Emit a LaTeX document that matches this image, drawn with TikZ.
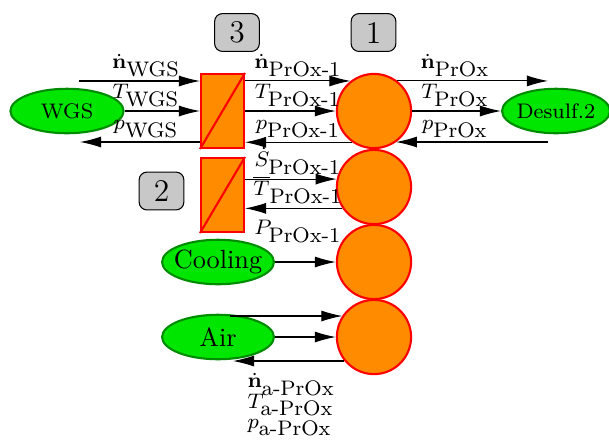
\documentclass[tikz,border=0pt]{standalone}
\usetikzlibrary{shapes.geometric,arrows.meta}
\definecolor{reactorfill}{RGB}{255,140,0}
\definecolor{unitfill}{RGB}{0,230,0}
\definecolor{unitdraw}{RGB}{0,140,0}
\definecolor{tagfill}{RGB}{200,200,200}
\begin{document}
\begin{tikzpicture}
[
    x=0.38pt, y=-0.38pt,
    reactor/.style={circle, draw=red, fill=reactorfill, line width=0.8pt, minimum size=28.2pt, inner sep=0pt},
    hex/.style={rectangle, draw=red, fill=reactorfill, line width=0.8pt, minimum width=16.3pt, minimum height=28.1pt, inner sep=0pt},
    unit/.style={ellipse, draw=unitdraw, fill=unitfill, line width=0.8pt, minimum width=42.5pt, minimum height=16.9pt, inner xsep=-2.5pt, inner ysep=0pt},
    tag/.style={rectangle, rounded corners=3pt, draw=black, fill=tagfill, minimum width=17pt, minimum height=14.4pt, inner sep=0pt, font=\large},
    lbl/.style={anchor=south, inner xsep=0pt, inner ysep=1.5pt, font=\footnotesize},
    flow/.style={-{Latex[length=8pt,width=4.2pt]}}
]
    \useasboundingbox (0,0) rectangle (609,441);

    % reactor stages
    \node [reactor] (c1) at (374,111) {};
    \node [reactor] (c2) at (374,187) {};
    \node [reactor] (c3) at (374,262) {};
    \node [reactor] (c4) at (374,337) {};

    % heat exchangers
    \node [hex] (r1) at (222.5,111) {};
    \node [hex] (r2) at (222.5,195) {};
    \draw [red, line width=0.8pt] (r1.south west) -- (r1.north east);
    \draw [red, line width=0.8pt] (r2.south west) -- (r2.north east);

    % numbered tags
    \node [tag] (t3) at (237,32.5) {3};
    \node [tag] (t1) at (373.5,32.5) {1};
    \node [tag] (t2) at (161.5,191) {2};

    % surrounding units
    \node [unit, minimum width=43pt, font=\footnotesize] (wgs) at (67,111) {WGS};
    \node [unit, minimum width=41pt, font=\footnotesize] (desulf) at (556,111) {Desulf.2};
    \node [unit] (cool) at (218,262) {Cooling};
    \node [unit] (air) at (218,337) {Air};

    % free ends
    \coordinate (wgsin) at (79,81);
    \coordinate (wgsout) at (80,142);
    \coordinate (proxout) at (548,81);
    \coordinate (proxin) at (548,142);
    \coordinate (airin) at (230,316);
    \coordinate (airout) at (233,361);

    % WGS side
    \draw [flow] (wgsin) -- (wgsin -| r1.west);
    \draw [flow] (wgs.east) -- (r1.west);
    \draw [flow] (r1.west |- wgsout) -- (wgsout);
    \node [lbl] (lnwgs) at (146,81) {$\dot{\mathbf{n}}_{\mbox{WGS}}$};
    \node [lbl] (ltwgs) at (146,111) {$T_{\mbox{WGS}}$};
    \node [lbl] (lpwgs) at (146,142) {$p_{\mbox{WGS}}$};

    % exchanger 3 to stage 1
    \draw [flow] (r1.east |- c1.128) -- (c1.128);
    \draw [flow] (r1.east) -- (c1.west);
    \draw [flow] (c1.-125) -- (r1.east |- c1.-125);
    \node [lbl] (lnprox1) at (298,81) {$\dot{\mathbf{n}}_{\mbox{PrOx-1}}$};
    \node [lbl] (ltprox1) at (298,111) {$T_{\mbox{PrOx-1}}$};
    \node [lbl] (lpprox1) at (298,142) {$p_{\mbox{PrOx-1}}$};

    % stage 1 to Desulf.2
    \draw [flow] (c1.52) -- (c1.52 -| proxout);
    \draw [flow] (c1.east) -- (desulf.west);
    \draw [flow] (proxin) -- (proxin -| c1.-55);
    \node [lbl] (lnprox) at (455,81) {$\dot{\mathbf{n}}_{\mbox{PrOx}}$};
    \node [lbl] (ltprox) at (455,111) {$T_{\mbox{PrOx}}$};
    \node [lbl] (lpprox) at (455,142) {$p_{\mbox{PrOx}}$};

    % exchanger 2 and stage 2
    \draw [flow] (r2.east |- c2.168) -- (c2.168);
    \draw [flow] (c2.-146) -- (r2.east |- c2.-146);
    \node [lbl] (lsprox1) at (298,179) {$\dot{S}_{\mbox{PrOx-1}}$};
    \node [lbl] (lbtprox1) at (298,208) {$\overline{T}_{\mbox{PrOx-1}}$};

    % cooling
    \draw [flow] (cool.east) -- (c3.west);
    \node [lbl] (lpcool) at (298,247) {$P_{\mbox{PrOx-1}}$};

    % air
    \draw [flow] (airin) -- (airin -| c4.146);
    \draw [flow] (air.east) -- (c4.west);
    \draw [flow] (c4.-141) -- (c4.-141 -| airout);
    \node [lbl, anchor=north west, align=left] (lair) at (247,369)
        {$\dot{\mathbf{n}}_{\mbox{a-PrOx}}$\\[-1.8pt] $T_{\mbox{a-PrOx}}$\\[-1.8pt] $p_{\mbox{a-PrOx}}$};
\end{tikzpicture}
\end{document}
